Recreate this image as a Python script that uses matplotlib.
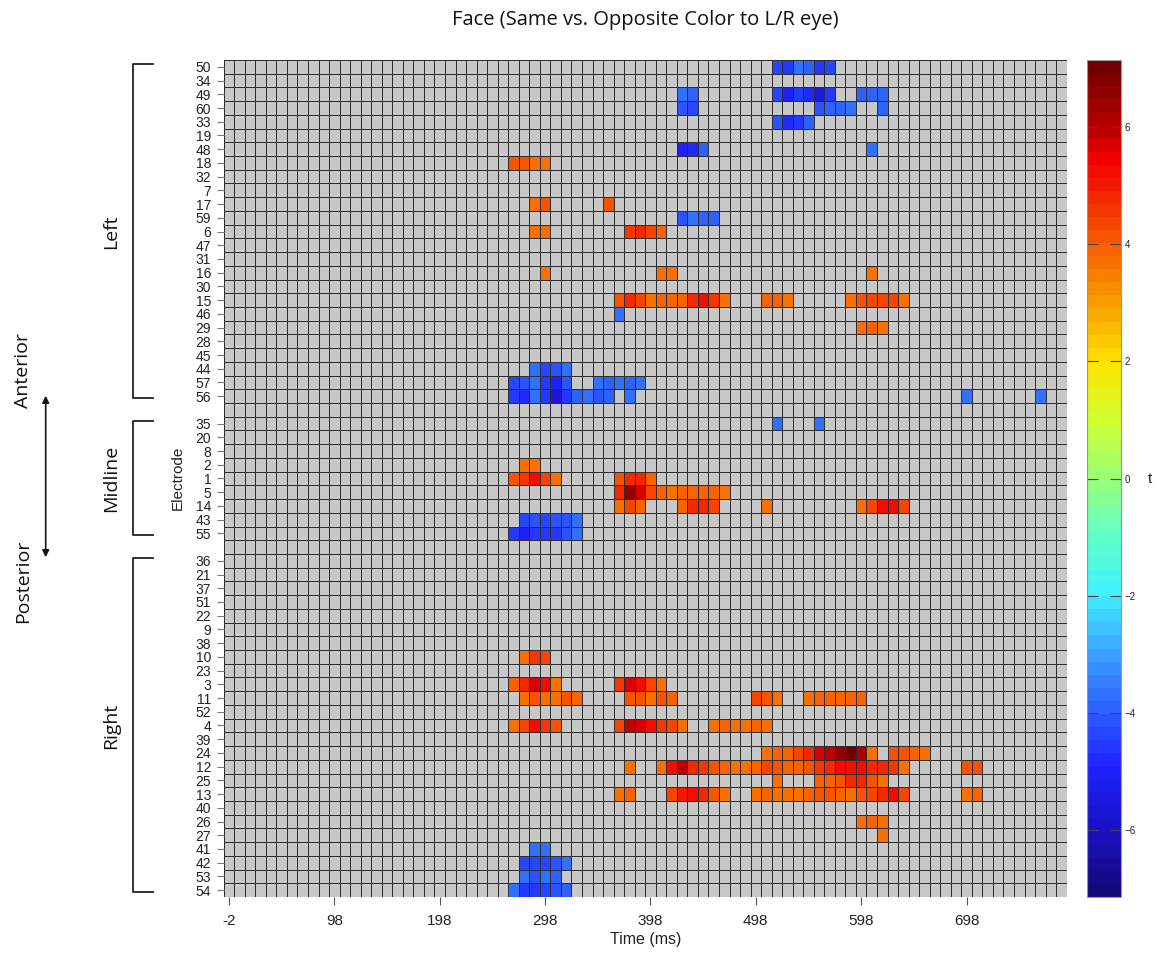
import numpy as np
import matplotlib
matplotlib.use("Agg")
import matplotlib.pyplot as plt
from matplotlib.colors import LinearSegmentedColormap, ListedColormap, Normalize
from matplotlib import transforms as mtransforms

plt.rcParams["font.family"] = ["Liberation Sans", "DejaVu Sans"]

# time bins (ms), 10 ms each
times = np.arange(-2, 798, 10)
time_ticks = [-2, 98, 198, 298, 398, 498, 598, 698]

left_electrodes = ["50", "34", "49", "60", "33", "19", "48", "18", "32", "7", "17", "59", "6",
                   "47", "31", "16", "30", "15", "46", "29", "28", "45", "44", "57", "56"]
mid_electrodes = ["35", "20", "8", "2", "1", "5", "14", "43", "55"]
right_electrodes = ["36", "21", "37", "51", "22", "9", "38", "10", "23", "3", "11", "52", "4",
                    "39", "24", "12", "25", "13", "40", "26", "27", "41", "42", "53", "54"]

# significant t values: electrode -> [(first bin time, run of t values)]
left_sig = {
    "50": [(518, [-4.3, -4.6, -3.7, -3.8, -4.6, -4.3])],
    "49": [(428, [-3.7, -3.9]), (518, [-4.4, -5.0, -4.5, -4.9, -5.5, -4.6]), (598, [-3.8, -3.8, -3.9])],
    "60": [(428, [-4.1, -4.3]), (558, [-4.1, -4.0, -3.8, -3.7]), (618, [-3.8])],
    "33": [(518, [-4.1, -4.8, -4.6, -3.8])],
    "48": [(428, [-5.0, -4.9, -4.0]), (608, [-3.7])],
    "18": [(268, [4.15, 4.15, 3.7, 3.7])],
    "17": [(288, [3.7, 4.2]), (358, [4.2])],
    "59": [(428, [-4.1, -3.7, -3.9, -4.0])],
    "6": [(288, [3.7, 3.7]), (378, [4.5, 4.8, 4.4, 4.0])],
    "16": [(298, [3.7]), (408, [3.7, 3.7]), (608, [3.7])],
    "15": [(368, [4.2, 4.8, 4.3, 3.7, 3.8, 4.0, 4.0, 4.8, 5.3, 4.5, 3.7]),
           (508, [4.0, 4.0, 3.7]), (588, [3.7, 4.2, 4.3, 4.3, 4.3, 3.7])],
    "46": [(368, [-3.7])],
    "29": [(598, [3.7, 3.9, 3.7])],
    "44": [(288, [-3.7, -4.3, -4.1, -3.7])],
    "57": [(268, [-4.3, -4.1, -3.7, -4.5, -5.0, -4.2]), (348, [-3.7, -3.9, -3.7, -3.8, -3.7])],
    "56": [(268, [-4.5, -4.9, -3.7, -4.6, -5.6, -4.6, -3.8, -3.7, -4.1, -3.8]),
           (378, [-3.7]), (698, [-3.7]), (768, [-3.7])],
}
mid_sig = {
    "35": [(518, [-3.7]), (558, [-3.7])],
    "2": [(278, [3.7, 3.7])],
    "1": [(268, [4.2, 4.6, 5.3, 4.3, 3.7]), (368, [4.2, 4.8, 4.9, 3.9])],
    "5": [(368, [4.9, 6.5, 5.8, 4.3, 3.8, 3.7, 3.9, 3.9, 4.0, 3.9, 3.7])],
    "14": [(368, [3.7, 4.3, 3.9]), (428, [3.9, 4.9, 4.8, 4.3]), (508, [3.7]),
           (598, [3.7, 4.3, 5.3, 5.2, 4.3])],
    "43": [(278, [-4.3, -4.2, -4.3, -4.2, -4.1, -3.7])],
    "55": [(268, [-4.6, -5.0, -4.5, -4.6, -4.6, -4.1, -3.7])],
}
right_sig = {
    "10": [(278, [3.7, 4.6, 4.4])],
    "3": [(268, [3.9, 4.8, 5.6, 5.3, 3.7]), (368, [4.6, 5.6, 5.3, 4.3, 3.7])],
    "11": [(278, [3.7, 4.2, 3.7, 3.7, 4.2, 3.9]), (378, [4.2, 4.2, 3.7, 4.2, 3.9]),
           (498, [4.3, 4.2, 3.7]), (548, [3.7, 4.0, 4.0, 4.0, 3.8, 4.0])],
    "4": [(268, [3.7, 4.3, 5.3, 4.6, 4.2]), (368, [4.3, 5.9, 5.8, 5.3, 4.6, 4.3, 3.7]),
          (458, [3.7, 3.8, 3.7, 3.7, 3.8, 3.7])],
    "24": [(508, [3.7, 3.8, 3.9, 4.3, 4.9, 5.6, 6.0, 6.7, 7.0, 6.1, 3.7]),
           (628, [4.2, 4.2, 3.9, 3.7])],
    "12": [(378, [3.7]),
           (408, [3.7, 5.3, 5.9, 4.9, 4.6, 4.2, 3.9, 3.7, 3.7, 3.9, 4.4, 4.2,
                  4.0, 4.0, 4.2, 4.6, 4.9, 5.2, 5.3, 5.3, 4.9, 4.8, 4.5, 3.7]),
           (698, [4.2, 4.2])],
    "25": [(518, [3.7]), (558, [3.9, 4.0, 4.2, 4.8, 4.9, 4.2, 3.7])],
    "13": [(368, [3.7, 4.0]), (418, [4.3, 5.1, 5.3, 4.9, 4.2, 3.7]),
           (498, [3.7, 3.9, 3.7, 3.7, 3.7, 3.9, 4.2, 4.2, 3.9, 3.7, 4.2, 4.3, 4.9, 5.3, 4.3]),
           (698, [3.7, 3.9])],
    "26": [(598, [3.7, 3.9, 3.7])],
    "27": [(618, [3.7])],
    "41": [(288, [-3.7, -3.7])],
    "42": [(278, [-4.3, -4.3, -4.3, -4.1, -3.7])],
    "53": [(278, [-3.7, -4.1, -3.7, -3.9])],
    "54": [(268, [-3.7, -4.6, -4.6, -4.3, -4.1, -3.8])],
}

t_limit = 7.15
groups = [("Left", left_electrodes, left_sig),
          ("Midline", mid_electrodes, mid_sig),
          ("Right", right_electrodes, right_sig)]

# stack groups with one empty spacer row between them
row_labels = []
tvals = []
group_rows = []
for gi, (name, elecs, sig) in enumerate(groups):
    if gi > 0:
        row_labels.append(None)
        tvals.append(np.full(len(times), np.nan))
    first = len(row_labels)
    for e in elecs:
        r = np.full(len(times), np.nan)
        for start, vals in sig.get(e, []):
            j = int((start - times[0]) // 10)
            r[j:j + len(vals)] = vals
        row_labels.append(e)
        tvals.append(r)
    group_rows.append((name, first, len(row_labels) - 1))
tvals = np.array(tvals)
nrow = len(row_labels)
is_gap = np.array([lab is None for lab in row_labels])

# jet-like palette as it looks in the original (64 steps), anchors given in t units
cmap_anchors = [(-7.15, "#14087a"), (-6, "#1a12c8"), (-5, "#1e22ff"), (-4, "#2e60ff"),
                (-3, "#3ea2ff"), (-2, "#40f0ff"), (-1, "#60ffc8"), (0, "#98ff78"),
                (1, "#d0ff30"), (2, "#ffe400"), (3, "#f8a000"), (4, "#f86000"),
                (5, "#f22000"), (5.5, "#f80000"), (6, "#c00000"), (7.15, "#700000")]
jet64 = LinearSegmentedColormap.from_list(
    "jet64", [((t + t_limit) / (2 * t_limit), c) for t, c in cmap_anchors], N=64)
norm = Normalize(-t_limit, t_limit)

W, H = 1157, 955
fig = plt.figure(figsize=(W / 100, H / 100), dpi=100)
ax = fig.add_axes([223.7 / W, 1 - 897 / H, 843 / W, 837 / H])
ax.set_facecolor("#c8c8c8")

xe = np.append(times - 5, times[-1] + 5)
ye = np.arange(nrow + 1) - 0.5
grid_kw = dict(edgecolors="#2e2e2e", linewidth=0.6)
bg = np.where(is_gap[:, None], np.nan, 0.0) * np.ones((1, len(times)))
ax.pcolormesh(xe, ye, np.ma.masked_invalid(bg), cmap=ListedColormap(["#c8c8c8"]), **grid_kw)
mesh = ax.pcolormesh(xe, ye, np.ma.masked_invalid(tvals), cmap=jet64, norm=norm, **grid_kw)

ax.set_xlim(xe[0], xe[-1])
ax.set_ylim(nrow - 0.5, -0.5)
for s in ax.spines.values():
    s.set_visible(False)

ax.set_xticks(time_ticks)
ax.set_xticklabels([str(t) for t in time_ticks])
ax.tick_params(axis="x", length=6, width=0.8, color="#555555", pad=6,
               labelsize=11, labelcolor="#222222")
ticks_y = [i for i, lab in enumerate(row_labels) if lab is not None]
ax.set_yticks(ticks_y)
ax.set_yticklabels([row_labels[i] for i in ticks_y])
ax.tick_params(axis="y", length=5, width=0.8, color="#777777", pad=4,
               labelsize=10, labelcolor="#222222")
ax.set_xlabel("Time (ms)", fontsize=11.5, color="#222222", labelpad=3)

fig.text(178 / W, 1 - 478 / H, "Electrode", rotation=90, ha="center", va="center",
         fontsize=11, color="#222222")

# group brackets and names
sans = ["Open Sans", "DejaVu Sans"]
trans = mtransforms.blended_transform_factory(fig.transFigure, ax.transData)
bx0, bx1 = 132.7 / W, 152.7 / W
for name, r0, r1 in group_rows:
    y0, y1 = r0 - 0.2, r1 + 0.15
    ax.plot([bx1, bx0, bx0, bx1], [y0, y0, y1, y1], transform=trans, clip_on=False,
            color="#222222", lw=1.3)
    ax.text(111 / W, (r0 + r1) / 2, name, transform=trans, rotation=90, ha="center",
            va="center", fontsize=14, family=sans, color="#111111")

fig.text(23 / W, 1 - 370 / H, "Anterior", rotation=90, ha="center", va="center",
         fontsize=14, family=sans, color="#111111")
fig.text(23 / W, 1 - 581 / H, "Posterior", rotation=90, ha="center", va="center",
         fontsize=14, family=sans, color="#111111")
fig.add_artist(matplotlib.patches.FancyArrowPatch(
    (45.7 / W, 1 - 393 / H), (45.7 / W, 1 - 560 / H), transform=fig.transFigure,
    arrowstyle="<|-|>", mutation_scale=10, lw=1.2, color="#111111"))

fig.text(645 / W, 1 - 20 / H, "Face (Same vs. Opposite Color to L/R eye)", ha="center",
         va="center", fontsize=14.5, family=sans, color="#111111")

# colorbar
cax = fig.add_axes([1087.3 / W, 1 - 897 / H, 33.4 / W, 837 / H])
cb = fig.colorbar(mesh, cax=cax, ticks=[-6, -4, -2, 0, 2, 4, 6])
cb.outline.set_edgecolor("#999999")
cb.outline.set_linewidth(0.8)
cax.tick_params(direction="in", length=8, width=0.8, color="#444444", left=True,
                right=True, labelsize=7, labelcolor="#222222", pad=3)
fig.text(1150 / W, 1 - 479 / H, "t", ha="center", va="center", fontsize=11, color="#222222")

fig.savefig("out.png", dpi=100)
